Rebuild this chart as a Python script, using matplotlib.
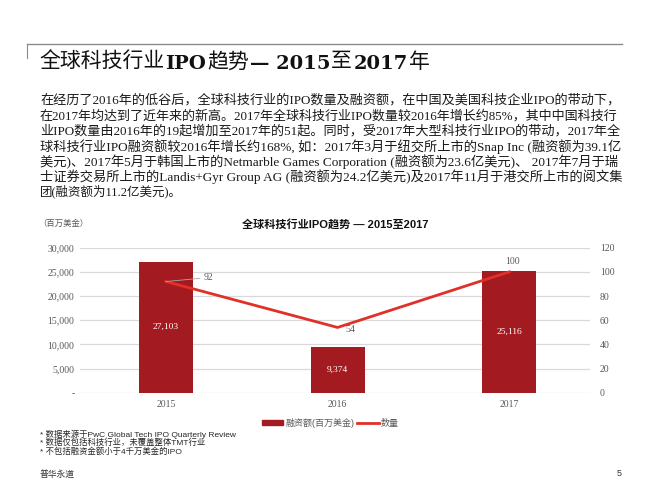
import matplotlib.pyplot as plt
from matplotlib.lines import Line2D
from matplotlib.patches import Patch

# slide is 660x495 px, positions below are in pixels from the top-left
W, H = 660, 495

def fx(x):
    return x / W

def fy(y):
    return 1 - y / H

SERIF = ['Liberation Serif', 'Noto Sans CJK SC']
WIDE_SERIF = ['DejaVu Serif', 'Noto Sans CJK SC']
SANS = ['Liberation Sans', 'Noto Sans CJK SC']

# chart data
years = ['2015', '2016', '2017']
amount = [27103, 9374, 25116]      # 融资额(百万美金)
count = [92, 54, 100]              # 数量
left_ticks = [0, 5000, 10000, 15000, 20000, 25000, 30000]
right_ticks = [0, 20, 40, 60, 80, 100, 120]

# title pieces: (text, bold latin?)
title_runs = [('全球科技行业', False), ('IPO', True), ('趋势', False), ('— 2015', True),
              ('至', False), ('2017', True), ('年', False)]
paragraph = [
    '在经历了2016年的低谷后，全球科技行业的IPO数量及融资额，在中国及美国科技企业IPO的带动下，',
    '在2017年均达到了近年来的新高。2017年全球科技行业IPO数量较2016年增长约85%，其中中国科技行',
    '业IPO数量由2016年的19起增加至2017年的51起。同时，受2017年大型科技行业IPO的带动，2017年全',
    '球科技行业IPO融资额较2016年增长约168%, 如：2017年3月于纽交所上市的Snap Inc (融资额为39.1亿',
    '美元)、2017年5月于韩国上市的Netmarble Games Corporation (融资额为23.6亿美元)、 2017年7月于瑞',
    '士证券交易所上市的Landis+Gyr Group AG (融资额为24.2亿美元)及2017年11月于港交所上市的阅文集',
    '团(融资额为11.2亿美元)。',
]
notes = [
    '* 数据来源于PwC Global Tech IPO Quarterly Review',
    '* 数据仅包括科技行业，未覆盖整体TMT行业',
    '* 不包括融资金额小于4千万美金的IPO',
]

BAR = '#a31b20'
LINE = '#e03028'
GRAY = '#595959'

fig = plt.figure(figsize=(6.6, 4.95), dpi=100)
fig.patch.set_facecolor('white')
renderer = fig.canvas.get_renderer()

# header rule
fig.add_artist(Line2D([fx(27), fx(622)], [fy(44), fy(44)], color='#8c8c8c', lw=1))
fig.add_artist(Line2D([fx(27), fx(27)], [fy(44), fy(58)], color='#8c8c8c', lw=0.8))

# title drawn piece by piece so the latin parts can be bold
xpos = 39
for s, bold in title_runs:
    if bold:
        t = fig.text(fx(xpos), fy(64), s, fontsize=14, family=WIDE_SERIF,
                     color='#111111', va='center', fontweight='bold')
    else:
        t = fig.text(fx(xpos), fy(63), s, fontsize=15, family=SERIF,
                     color='#111111', va='center')
    xpos += t.get_window_extent(renderer).width + 1

# paragraph, each line scaled a little so it fills the text column
line_y = [100.5, 115.7, 131, 146.2, 161.4, 176.6, 191.8]
for i, (s, y) in enumerate(zip(paragraph, line_y)):
    t = fig.text(fx(40), fy(y), s, fontsize=9, family=SERIF, color='#1a1a1a', va='center')
    if i < len(paragraph) - 1:
        w = t.get_window_extent(renderer).width
        size = 9 * 580 / w
        t.set_fontsize(min(max(size, 8.4), 9.8))

# chart
ax = fig.add_axes([fx(80), fy(392.7), fx(590) - fx(80), fy(247.7) - fy(392.7)])
x = range(len(years))
ax.bar(x, amount, width=0.314, color=BAR, zorder=2)
ax.set_xlim(-0.5, 2.47)
ax.set_ylim(0, 30000)
ax.set_yticks(left_ticks)
ax.set_yticklabels(['-' if v == 0 else f'{v:,}' for v in left_ticks])
ax.set_xticks(list(x))
ax.set_xticklabels(years)
ax.grid(axis='y', color='#d9d9d9', lw=0.9, zorder=0)
ax.set_axisbelow(True)
for sp in ax.spines.values():
    sp.set_visible(False)
ax.tick_params(length=0, colors=GRAY, labelsize=7)
ax.tick_params(axis='y', pad=4)
ax.tick_params(axis='x', pad=5)
for lab in ax.get_xticklabels() + ax.get_yticklabels():
    lab.set_family(SERIF)

for i, v in enumerate(amount):
    ax.text(i, v / 2, f'{v:,}', ha='center', va='center', color='white',
            fontsize=6.8, family=SERIF)

ax2 = ax.twinx()
ax2.plot(list(x), count, color=LINE, lw=2, zorder=3)
ax2.set_ylim(0, 120)
ax2.set_yticks(right_ticks)
for sp in ax2.spines.values():
    sp.set_visible(False)
ax2.tick_params(length=0, colors=GRAY, labelsize=7, pad=7)
for lab in ax2.get_yticklabels():
    lab.set_family(SERIF)

ax2.annotate(str(count[0]), xy=(0, count[0]), xytext=(43, 4), textcoords='offset pixels',
             ha='center', va='center', fontsize=7, color=GRAY, family=SERIF,
             arrowprops=dict(arrowstyle='-', color='#a6a6a6', lw=0.6, shrinkA=1, shrinkB=0))
ax2.annotate(str(count[1]), xy=(1, count[1]), xytext=(13, -2), textcoords='offset pixels',
             ha='center', va='center', fontsize=7, color=GRAY, family=SERIF)
ax2.annotate(str(count[2]), xy=(2, count[2]), xytext=(3, 10), textcoords='offset pixels',
             ha='center', va='center', fontsize=7, color=GRAY, family=SERIF)

fig.text(fx(38), fy(224), '（百万美金）', fontsize=6, family=SANS, color=GRAY, va='center')
fig.text(fx(335.5), fy(224), '全球科技行业IPO趋势 — 2015至2017', fontsize=8, family=SANS,
         fontweight='bold', color='#111111', ha='center', va='center')

handles = [Patch(color=BAR), Line2D([0], [0], color=LINE, lw=2)]
leg = fig.legend(handles, ['融资额(百万美金)', '数量'], loc='center',
                 bbox_to_anchor=(fx(330), fy(423)), ncol=2, frameon=False,
                 handlelength=2.4, handleheight=0.45,
                 handletextpad=0.2, columnspacing=0.3, prop={'family': SANS, 'size': 6.5})
for t in leg.get_texts():
    t.set_color(GRAY)

for s, y in zip(notes, [434, 443, 451.5]):
    fig.text(fx(40), fy(y), s, fontsize=6, family=SANS, color='#262626', va='center')

fig.text(fx(40), fy(474), '普华永道', fontsize=6.3, family=SANS, color='#333333', va='center')
fig.text(fx(619), fy(473), '5', fontsize=6.5, family=SANS, color='#333333', va='center', ha='center')

fig.savefig('out.png', dpi=100)
